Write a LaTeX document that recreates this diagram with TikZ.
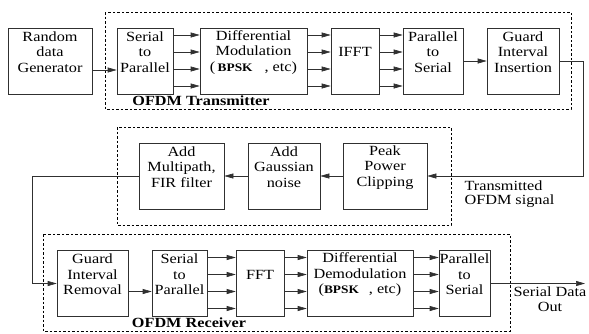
\documentclass[tikz,border=0pt]{standalone}
\usepackage{fontspec}
\setmainfont[FakeStretch=1.16]{Liberation Serif}
\usetikzlibrary{arrows.meta, positioning}
\definecolor{boxline}{HTML}{303030}

\begin{document}
\begin{tikzpicture}[
    x=1pt, y=-1pt,
    font=\fontsize{14}{15.5}\selectfont,
    block/.style={draw=boxline, line width=0.6pt, minimum height=66pt, inner sep=0pt},
    btext/.style={align=center, anchor=center, yshift=-24.5pt},
    group/.style={draw=black, line width=0.6pt, dash pattern=on 2.5pt off 2pt},
    flow/.style={-{Triangle[length=9pt, width=5pt]}, line width=0.6pt, color=boxline},
    glab/.style={font=\fontsize{14}{15.5}\selectfont\bfseries},
    flab/.style={align=left, font=\fontsize{14}{14}\selectfont}
]
\useasboundingbox (0,0) rectangle (589,333);

% --- Dashed groups ---
\draw[group] (105,12) rectangle (571,109);
\draw[group] (117,127) rectangle (451,225);
\draw[group] (43,234) rectangle (510,331);
\node[glab] (txlab) at (201,101) {OFDM Transmitter};
\node[glab] (rxlab) at (189,323) {OFDM Receiver};

% --- Transmitter chain ---
\node[block, minimum width=84pt, label={[btext]north:{Random\\data\\Generator}}] (gen) at (50,61) {};
\node[block, minimum width=56pt, label={[btext]north:{Serial\\to\\Parallel}}] (sp1) at (145,61) {};
\node[block, minimum width=107pt, label={[btext]north:{Differential\\Modulation\\(\,\textbf{\fontsize{11.5}{12}\selectfont BPSK}\hspace{12pt}, etc)}}] (mod) at (253.5,61) {};
\node[block, minimum width=48pt, label={[btext]north:{IFFT}}] (ifft) at (355,61) {};
\node[block, minimum width=60pt, label={[btext]north:{Parallel\\to\\Serial}}] (ps1) at (433,61) {};
\node[block, minimum width=72pt, label={[btext]north:{Guard\\Interval\\Insertion}}] (gii) at (523,61) {};

% --- Channel ---
\node[block, minimum width=85pt, label={[btext]north:{Add\\Multipath,\\FIR filter}}] (fir) at (181.5,176) {};
\node[block, minimum width=72pt, label={[btext]north:{Add\\Gaussian\\noise}}] (noise) at (284,176) {};
\node[block, minimum width=84pt, label={[btext]north:{Peak\\Power\\Clipping}}] (clip) at (385,176) {};

% --- Receiver chain ---
\node[block, minimum width=71pt, label={[btext]north:{Guard\\Interval\\Removal}}] (gir) at (92.5,283.5) {};
\node[block, minimum width=55pt, label={[btext]north:{Serial\\to\\Parallel}}] (sp2) at (179.5,283.5) {};
\node[block, minimum width=48pt, label={[btext]north:{FFT}}] (fft) at (260,283.5) {};
\node[block, minimum width=106pt, label={[btext]north:{Differential\\Demodulation\\(\textbf{\fontsize{11.5}{12}\selectfont BPSK}\hspace{10pt}, etc)}}] (demod) at (360,283.5) {};
\node[block, minimum width=51pt, label={[btext]north:{Parallel\\to\\Serial}}] (ps2) at (464.5,283.5) {};

% --- Free ends of the links ---
\coordinate (tout) at (583,176);
\coordinate (rin) at (32,176);
\coordinate (sout) at (585,283.5);

% --- Transmitter flows ---
\draw[flow] ([yshift=-9pt]gen.east) -- ([yshift=-9pt]sp1.west);
\foreach \dy in {26,9,-8,-25} {
    \draw[flow] ([yshift=\dy pt]sp1.east) -- ([yshift=\dy pt]mod.west);
    \draw[flow] ([yshift=\dy pt]mod.east) -- ([yshift=\dy pt]ifft.west);
    \draw[flow] ([yshift=\dy pt]ifft.east) -- ([yshift=\dy pt]ps1.west);
}
\draw[flow] (ps1.east) -- (gii.east -| gii.west);

% --- Channel flows ---
\draw[flow] (gii.east) -| (tout) -- (clip.east);
\draw[flow] (clip.west) -- (noise.east);
\draw[flow] (noise.west) -- (fir.east);
\draw[flow] (fir.west) -- (rin) |- (gir.west);

% --- Receiver flows ---
\draw[flow] ([yshift=-8pt]gir.east) -- ([yshift=-8pt]sp2.west);
\foreach \dy in {26,9,-8,-25} {
    \draw[flow] ([yshift=\dy pt]sp2.east) -- ([yshift=\dy pt]fft.west);
    \draw[flow] ([yshift=\dy pt]fft.east) -- ([yshift=\dy pt]demod.west);
    \draw[flow] ([yshift=\dy pt]demod.east) -- ([yshift=\dy pt]ps2.west);
}
\draw[flow] (ps2.east) -- (sout);

% --- Link labels ---
\node[flab, anchor=north west] (txsig) at (461,177) {Transmitted\\OFDM signal};
\node[align=center, anchor=north] (outlab) at (550,283) {Serial Data\\Out};

\end{tikzpicture}
\end{document}
